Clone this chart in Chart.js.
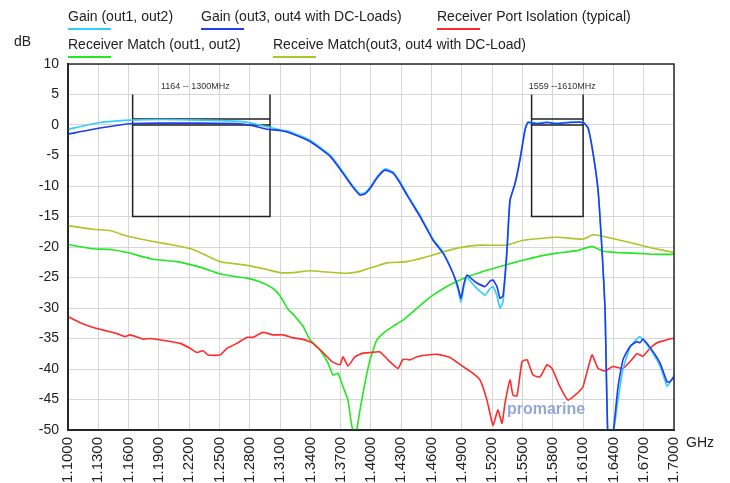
<!DOCTYPE html>
<html>
<head>
<meta charset="utf-8">
<script src="https://cdn.jsdelivr.net/npm/chart.js@4.4.1/dist/chart.umd.min.js"></script>
<style>
  html, body { margin: 0; padding: 0; background: #fff; }
  canvas { display: block; }
</style>
</head>
<body>
<canvas id="chart" width="730" height="483"></canvas>
<script>
// x axis tick values (GHz) and y range (dB)
const xTicks = [1.10, 1.13, 1.16, 1.19, 1.22, 1.25, 1.28, 1.31, 1.34, 1.37, 1.40,
                1.43, 1.46, 1.49, 1.52, 1.55, 1.58, 1.61, 1.64, 1.67, 1.70];
const yTicks = [10, 5, 0, -5, -10, -15, -20, -25, -30, -35, -40, -45, -50];

// gain curves, shared frequency points
const gainFreq = [1.1000, 1.1317, 1.1614, 1.1911, 1.2307, 1.2703, 1.2851, 1.2970, 1.3099, 1.3198,
                  1.3396, 1.3594, 1.3723, 1.3812, 1.3891, 1.3940, 1.3990, 1.4069, 1.4138, 1.4218,
                  1.4287, 1.4356, 1.4485, 1.4614, 1.4713, 1.4812, 1.4861, 1.4891, 1.4920, 1.4950,
                  1.5030, 1.5129, 1.5178, 1.5208, 1.5247, 1.5277, 1.5307, 1.5346, 1.5376, 1.5426,
                  1.5475, 1.5525, 1.5554, 1.5644, 1.5743, 1.5842, 1.5970, 1.6099, 1.6149, 1.6198,
                  1.6248, 1.6287, 1.6317, 1.6347, 1.6386, 1.6446, 1.6495, 1.6564, 1.6634, 1.6663,
                  1.6693, 1.6782, 1.6861, 1.6931, 1.6960, 1.7000];
const gainOut12 = [-0.7, 0.4, 0.8, 0.9, 0.8, 0.6, 0.2, -0.3, -0.8, -1.1,
                   -2.5, -4.9, -7.7, -9.8, -11.3, -11.1, -10.2, -8.3, -7.2, -7.7,
                   -9.3, -11.3, -14.8, -18.7, -20.8, -24.3, -27.0, -29.0, -26.5, -25.0,
                   -26.5, -27.9, -26.8, -26.5, -28.0, -30.0, -29.0, -21.0, -12.5, -9.6,
                   -5.6, -0.7, 0.5, 0.3, 0.5, 0.3, 0.5, 0.5, -0.4, -4.5,
                   -10.6, -20.4, -30.0, -52, -52, -45.0, -40.0, -36.5, -35.0, -34.7,
                   -35.2, -37.2, -39.5, -42.8, -42.2, -41.0];
const gainOut34 = [-1.5, -0.5, 0.2, 0.3, 0.3, 0.2, -0.2, -0.7, -0.9, -1.3,
                   -2.7, -5.1, -7.9, -10.0, -11.5, -11.3, -10.4, -8.5, -7.4, -7.9,
                   -9.5, -11.5, -15.0, -18.9, -21.0, -24.3, -26.5, -28.4, -26.0, -24.6,
                   -25.7, -26.5, -25.6, -25.4, -26.5, -28.4, -28.0, -20.5, -12.3, -9.6,
                   -5.7, -0.8, 0.4, 0.2, 0.4, 0.2, 0.4, 0.4, -0.5, -4.6,
                   -10.7, -20.5, -30.0, -52, -52, -42.9, -38.5, -36.3, -35.5, -35.7,
                   -35.1, -36.9, -39.0, -42.1, -42.1, -41.3];

// receiver match out1, out2
const matchFreq = [1.1000, 1.1248, 1.1416, 1.1584, 1.1842, 1.2079, 1.2307, 1.2505, 1.2634, 1.2772,
                   1.2901, 1.3030, 1.3099, 1.3178, 1.3228, 1.3327, 1.3396, 1.3495, 1.3574, 1.3624,
                   1.3673, 1.3723, 1.3772, 1.3812, 1.3851, 1.3891, 1.3940, 1.3990, 1.4059, 1.4138,
                   1.4218, 1.4317, 1.4416, 1.4534, 1.4614, 1.4782, 1.4950, 1.5109, 1.5277, 1.5406,
                   1.5545, 1.5673, 1.5842, 1.6040, 1.6188, 1.6297, 1.6436, 1.6594, 1.6792, 1.7000];
const matchOut12 = [-19.6, -20.3, -20.4, -20.9, -22.0, -22.4, -23.3, -24.4, -24.8, -25.1,
                    -25.7, -26.8, -28.0, -30.2, -31.0, -33.0, -35.2, -36.9, -39.0, -41.0,
                    -40.7, -42.9, -45.1, -49.5, -50.5, -46.7, -42.3, -38.5, -35.2, -33.9,
                    -33.0, -32.0, -30.6, -28.9, -27.9, -26.2, -24.9, -24.0, -23.2, -22.6,
                    -22.0, -21.5, -21.0, -20.6, -19.9, -20.7, -20.9, -21.0, -21.2, -21.2];

// receive match out3, out4 with DC-load
const matchDcFreq = [1.1000, 1.1248, 1.1416, 1.1584, 1.1842, 1.2079, 1.2238, 1.2505, 1.2634, 1.2802,
                     1.2970, 1.3099, 1.3228, 1.3396, 1.3564, 1.3762, 1.3891, 1.4059, 1.4158, 1.4356,
                     1.4554, 1.4713, 1.4881, 1.5079, 1.5346, 1.5505, 1.5842, 1.6099, 1.6198, 1.6337,
                     1.6594, 1.6792, 1.7000];
const matchOut34 = [-16.5, -17.1, -17.3, -18.2, -19.1, -19.8, -20.4, -22.4, -22.7, -23.1,
                    -23.7, -24.2, -24.2, -23.9, -24.1, -24.3, -24.0, -23.1, -22.6, -22.4,
                    -21.6, -20.8, -20.1, -19.7, -19.7, -18.9, -18.4, -18.7, -18.0, -18.4,
                    -19.4, -20.2, -20.9];

// receiver port isolation
const isoFreq = [1.1000, 1.1119, 1.1317, 1.1485, 1.1564, 1.1614, 1.1743, 1.1812, 1.1980, 1.2109,
                 1.2208, 1.2277, 1.2337, 1.2386, 1.2505, 1.2574, 1.2673, 1.2772, 1.2832, 1.2931,
                 1.3030, 1.3129, 1.3228, 1.3317, 1.3426, 1.3525, 1.3614, 1.3693, 1.3723, 1.3772,
                 1.3841, 1.3921, 1.3990, 1.4089, 1.4168, 1.4267, 1.4317, 1.4386, 1.4455, 1.4554,
                 1.4663, 1.4782, 1.4901, 1.5010, 1.5079, 1.5148, 1.5208, 1.5257, 1.5297, 1.5327,
                 1.5376, 1.5406, 1.5446, 1.5495, 1.5545, 1.5604, 1.5673, 1.5743, 1.5792, 1.5871,
                 1.5950, 1.6040, 1.6099, 1.6188, 1.6248, 1.6317, 1.6396, 1.6495, 1.6564, 1.6634,
                 1.6693, 1.6762, 1.6832, 1.6891, 1.6980, 1.7000];
const isolation = [-31.4, -32.4, -33.5, -34.2, -34.7, -34.4, -35.1, -35.0, -35.4, -35.8,
                   -36.6, -37.3, -37.0, -37.7, -37.7, -36.6, -35.8, -34.8, -34.8, -34.0,
                   -34.4, -34.4, -34.9, -35.1, -35.8, -37.3, -38.8, -39.3, -38.0, -39.5,
                   -38.0, -37.4, -37.3, -37.2, -38.5, -39.9, -38.4, -38.5, -38.0, -37.7,
                   -37.6, -38.1, -39.5, -40.7, -41.8, -45.1, -49.2, -46.7, -48.9, -45.6,
                   -41.8, -44.3, -44.4, -38.8, -38.5, -41.0, -41.3, -39.3, -39.9, -42.9,
                   -45.1, -44.0, -42.9, -37.7, -39.9, -40.3, -39.6, -39.9, -38.8, -37.5,
                   -37.9, -36.6, -35.7, -35.4, -35.0, -35.0];

// pass band masks: [start GHz, stop GHz], label text
const bandStart = [1.164, 1.559];
const bandStop = [1.300, 1.610];
const bandLabels = ['1164 -- 1300MHz', '1559 --1610MHz'];
const maskTop = 5, maskBottom = -15, maskLimits = [1, 0];

const legendItems = [
  { text: 'Gain (out1, out2)', color: '#33ccff' },
  { text: 'Gain (out3, out4 with DC-Loads)', color: '#1f3cf0' },
  { text: 'Receiver Port Isolation (typical)', color: '#ff2a2a' },
  { text: 'Receiver Match (out1, out2)', color: '#22e822' },
  { text: 'Receive Match(out3, out4 with DC-Load)', color: '#a8c828' }
];

const FONT = "'Liberation Sans', Arial, sans-serif";

function pts(xs, ys) {
  return xs.map((x, i) => ({ x: x, y: ys[i] }));
}

function maskPoints(i) {
  const a = bandStart[i], b = bandStop[i];
  const out = [{x: a, y: maskTop}, {x: a, y: maskBottom}, {x: b, y: maskBottom}, {x: b, y: maskTop}];
  maskLimits.forEach(v => {
    out.push({x: a, y: null});
    out.push({x: a, y: v}, {x: b, y: v});
  });
  return out;
}

function line(data, color, order) {
  return {
    data: data, borderColor: color, borderWidth: 1.6, pointRadius: 0,
    tension: 0.15, fill: false, order: order
  };
}

const decor = {
  id: 'decor',
  afterDatasetsDraw(chart) {
    const ctx = chart.ctx, xs = chart.scales.x, ys = chart.scales.y, a = chart.chartArea;
    ctx.save();
    // plot frame
    ctx.strokeStyle = '#2a2a2a';
    ctx.lineWidth = 1.5;
    ctx.strokeRect(a.left, a.top, a.right - a.left, a.bottom - a.top);
    // band labels
    ctx.fillStyle = '#333';
    ctx.font = '9px ' + FONT;
    ctx.textAlign = 'center';
    ctx.textBaseline = 'middle';
    bandLabels.forEach((t, i) => {
      const cx = (xs.getPixelForValue(bandStart[i]) + xs.getPixelForValue(bandStop[i])) / 2;
      ctx.fillText(t, cx + (i === 0 ? -6 : 5), ys.getPixelForValue(maskTop) - 8);
    });
    // watermark
    ctx.fillStyle = 'rgba(120,145,205,0.8)';
    ctx.font = 'bold 16px ' + FONT;
    ctx.textAlign = 'left';
    ctx.fillText('promarine', xs.getPixelForValue(1.5346), ys.getPixelForValue(-46.6));
    ctx.restore();
  },
  afterDraw(chart) {
    const ctx = chart.ctx;
    ctx.save();
    ctx.font = '14px ' + FONT;
    ctx.fillStyle = '#222';
    ctx.textBaseline = 'middle';
    ctx.textAlign = 'left';
    const pos = [[68, 17], [201, 17], [437, 17], [68, 45], [273, 45]];
    legendItems.forEach((it, i) => {
      const [x, y] = pos[i];
      ctx.fillStyle = '#222';
      ctx.fillText(it.text, x, y);
      ctx.strokeStyle = it.color;
      ctx.lineWidth = 2;
      ctx.beginPath();
      ctx.moveTo(x, y + 12);
      ctx.lineTo(x + 43, y + 12);
      ctx.stroke();
    });
    ctx.font = '14px ' + FONT;
    ctx.fillText('dB', 14, 42);
    ctx.fillText('GHz', 686, 443);
    ctx.restore();
  }
};

new Chart(document.getElementById('chart'), {
  type: 'line',
  data: {
    datasets: [
      line(pts(gainFreq, gainOut34), legendItems[1].color, 1),
      line(pts(gainFreq, gainOut12), legendItems[0].color, 2),
      line(pts(isoFreq, isolation), legendItems[2].color, 3),
      line(pts(matchFreq, matchOut12), legendItems[3].color, 4),
      line(pts(matchDcFreq, matchOut34), legendItems[4].color, 5),
      { data: maskPoints(0), borderColor: '#222', borderWidth: 1.5, pointRadius: 0, tension: 0, spanGaps: false, order: 9 },
      { data: maskPoints(1), borderColor: '#222', borderWidth: 1.5, pointRadius: 0, tension: 0, spanGaps: false, order: 9 }
    ]
  },
  options: {
    responsive: false,
    animation: false,
    devicePixelRatio: 1,
    layout: { padding: { top: 64, right: 56, left: 0, bottom: 0 } },
    plugins: { legend: { display: false }, tooltip: { enabled: false } },
    scales: {
      x: {
        type: 'linear', min: 1.1, max: 1.7,
        afterBuildTicks: s => { s.ticks = xTicks.map(v => ({ value: v })); },
        afterFit: s => { s.height = 53; },
        grid: { color: '#d6d6d6', lineWidth: 1, drawTicks: false },
        border: { color: '#222', width: 2 },
        ticks: {
          autoSkip: false, maxRotation: 90, minRotation: 90, padding: 7,
          color: '#222', font: { family: FONT, size: 15 },
          callback: v => Number(v).toFixed(4)
        }
      },
      y: {
        min: -50, max: 10,
        afterBuildTicks: s => { s.ticks = yTicks.map(v => ({ value: v })); },
        afterFit: s => { s.width = 68; },
        grid: { color: '#d6d6d6', lineWidth: 1, drawTicks: false },
        border: { color: '#222', width: 2 },
        ticks: { padding: 9, color: '#222', font: { family: FONT, size: 14 } }
      }
    }
  },
  plugins: [decor]
});
</script>
</body>
</html>
